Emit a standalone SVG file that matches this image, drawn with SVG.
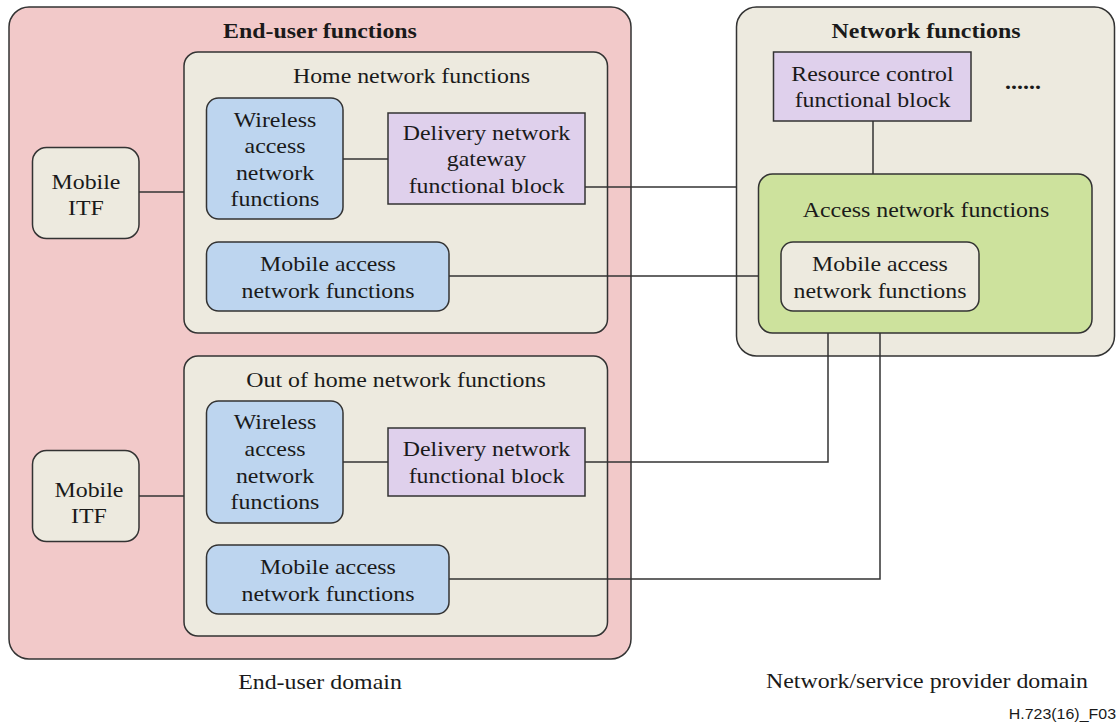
<svg xmlns="http://www.w3.org/2000/svg" width="1118" height="722" viewBox="0 0 1118 722">
<style>
.t{font-family:"Liberation Serif","Times New Roman",serif;font-size:21.5px;fill:#1a1a1a;text-anchor:middle}
.b{font-weight:bold}
.s{font-family:"Liberation Sans",Arial,sans-serif;font-size:14.5px;fill:#1a1a1a;text-anchor:end}
.box{stroke:#333;stroke-width:1.5}
.pink{fill:#f2c9c9}
.beige{fill:#edeadf}
.blue{fill:#bdd5ef}
.purple{fill:#dfd0ec}
.green{fill:#cde29d}
.ln{fill:none;stroke:#333;stroke-width:1.5}
</style>
<rect width="1118" height="722" fill="#fff"/>

<g id="end-user-functions">
<rect class="box pink" x="9" y="7" width="622" height="652" rx="20"/>
<text class="t b" transform="translate(320 0) scale(1.11 1)"><tspan x="0" y="38">End-user functions</tspan></text>
</g>

<g id="home-network-functions">
<rect class="box beige" x="184" y="52" width="423.5" height="281" rx="14"/>
<text class="t" transform="translate(411.5 0) scale(1.11 1)"><tspan x="0" y="83">Home network functions</tspan></text>
</g>

<g id="out-of-home-network-functions">
<rect class="box beige" x="184" y="356" width="423.5" height="280" rx="14"/>
<text class="t" transform="translate(396 0) scale(1.11 1)"><tspan x="0" y="387">Out of home network functions</tspan></text>
</g>

<g id="network-functions">
<rect class="box beige" x="736.5" y="7" width="378" height="349" rx="20"/>
<text class="t b" transform="translate(926 0) scale(1.11 1)"><tspan x="0" y="38">Network functions</tspan></text>
<text class="t b" transform="translate(1023 0) scale(1.11 1)"><tspan x="0" y="89">......</tspan></text>
</g>

<g id="connectors">
<line class="ln" x1="139" y1="192" x2="184" y2="192"/>
<line class="ln" x1="343" y1="159" x2="388" y2="159"/>
<line class="ln" x1="585" y1="187" x2="736.5" y2="187"/>
<line class="ln" x1="449" y1="276" x2="781" y2="276"/>
<line class="ln" x1="873" y1="121" x2="873" y2="174"/>
<line class="ln" x1="139" y1="496" x2="184" y2="496"/>
<line class="ln" x1="343" y1="462" x2="388" y2="462"/>
<polyline class="ln" points="585,462 828,462 828,333"/>
<polyline class="ln" points="449,579 880,579 880,311"/>
</g>

<g id="mobile-itf-home">
<rect class="box beige" x="32.5" y="147.5" width="106.5" height="91" rx="14"/>
<text class="t" transform="translate(86 0) scale(1.11 1)"><tspan x="0" y="189">Mobile</tspan><tspan x="0" y="215.5">ITF</tspan></text>
</g>

<g id="wireless-access-home">
<rect class="box blue" x="206.5" y="98" width="136.5" height="121" rx="12"/>
<text class="t" transform="translate(275 0) scale(1.11 1)"><tspan x="0" y="127">Wireless</tspan><tspan x="0" y="153.5">access</tspan><tspan x="0" y="180">network</tspan><tspan x="0" y="206.5">functions</tspan></text>
</g>

<g id="delivery-network-gateway">
<rect class="box purple" x="388" y="113" width="197" height="91"/>
<text class="t" transform="translate(486.5 0) scale(1.11 1)"><tspan x="0" y="140">Delivery network</tspan><tspan x="0" y="166.5">gateway</tspan><tspan x="0" y="193">functional block</tspan></text>
</g>

<g id="mobile-access-home">
<rect class="box blue" x="206.5" y="242" width="242.5" height="69" rx="12"/>
<text class="t" transform="translate(328 0) scale(1.11 1)"><tspan x="0" y="271.5">Mobile access</tspan><tspan x="0" y="298">network functions</tspan></text>
</g>

<g id="mobile-itf-out">
<rect class="box beige" x="32.5" y="450.5" width="106.5" height="91" rx="14"/>
<text class="t" transform="translate(89 0) scale(1.11 1)"><tspan x="0" y="497">Mobile</tspan><tspan x="0" y="523.5">ITF</tspan></text>
</g>

<g id="wireless-access-out">
<rect class="box blue" x="206.5" y="401" width="136.5" height="122" rx="12"/>
<text class="t" transform="translate(275 0) scale(1.11 1)"><tspan x="0" y="429.5">Wireless</tspan><tspan x="0" y="456.5">access</tspan><tspan x="0" y="483">network</tspan><tspan x="0" y="509.5">functions</tspan></text>
</g>

<g id="delivery-network-out">
<rect class="box purple" x="388" y="428" width="197" height="68"/>
<text class="t" transform="translate(486.5 0) scale(1.11 1)"><tspan x="0" y="456.5">Delivery network</tspan><tspan x="0" y="483">functional block</tspan></text>
</g>

<g id="mobile-access-out">
<rect class="box blue" x="206.5" y="545" width="242.5" height="69" rx="12"/>
<text class="t" transform="translate(328 0) scale(1.11 1)"><tspan x="0" y="574.5">Mobile access</tspan><tspan x="0" y="601">network functions</tspan></text>
</g>

<g id="resource-control">
<rect class="box purple" x="773.5" y="52" width="197.5" height="69"/>
<text class="t" transform="translate(872.5 0) scale(1.11 1)"><tspan x="0" y="81">Resource control</tspan><tspan x="0" y="107.5">functional block</tspan></text>
</g>

<g id="access-network-functions">
<rect class="box green" x="758.5" y="174" width="333.5" height="159" rx="14"/>
<text class="t" transform="translate(926 0) scale(1.11 1)"><tspan x="0" y="217">Access network functions</tspan></text>
</g>

<g id="mobile-access-net">
<rect class="box beige" x="781" y="242" width="198" height="69" rx="12"/>
<text class="t" transform="translate(880 0) scale(1.11 1)"><tspan x="0" y="271.5">Mobile access</tspan><tspan x="0" y="298">network functions</tspan></text>
</g>

<g id="labels">
<text class="t" transform="translate(320 0) scale(1.11 1)"><tspan x="0" y="689">End-user domain</tspan></text>
<text class="t" transform="translate(927 0) scale(1.11 1)"><tspan x="0" y="688">Network/service provider domain</tspan></text>
<text class="s" transform="translate(1116 0) scale(1.1 1)"><tspan x="0" y="719">H.723(16)_F03</tspan></text>
</g>
</svg>
